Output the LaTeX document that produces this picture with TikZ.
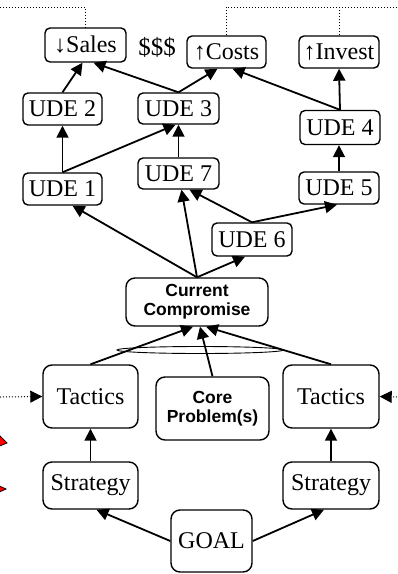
\documentclass[tikz,border=0pt]{standalone}
\usepackage{fontspec}
\setmainfont{Liberation Serif}
\newfontfamily\bsans{Liberation Sans}
\usetikzlibrary{arrows.meta,calc}

\tikzset{
  box/.style={draw, line width=1.4pt, rounded corners=5pt, inner sep=0pt,
    align=center, font=\fontsize{24}{25}\selectfont},
  bigbox/.style={box, rounded corners=9pt},
  boldbox/.style={bigbox, font=\bsans\bfseries\fontsize{17.5}{19}\selectfont},
  link/.style={line width=1.8pt, -{Triangle[length=12pt,width=12pt]}},
  feed/.style={line width=1pt, dotted},
  feedin/.style={feed, -{Triangle[length=12pt,width=12pt]}},
  redtip/.style={fill=red, draw=black, line width=0.8pt, line join=miter}
}

\begin{document}
\begin{tikzpicture}[x=1pt, y=-1pt]
\useasboundingbox (0,0) rectangle (397,574);

% effects row
\node[box, minimum width=81pt, minimum height=34pt] (sales)  at (85.5,45)  {↓Sales};
\node[font=\fontsize{25}{26}\selectfont, inner sep=0pt] (money) at (157,47) {\$\$\$};
\node[box, minimum width=79pt, minimum height=32pt] (costs)  at (226.5,52) {↑Costs};
\node[box, minimum width=80pt, minimum height=32pt] (invest) at (339,52)   {↑Invest};

% undesirable effects
\node[box, minimum width=79pt, minimum height=32pt] (ude2) at (62.5,109)   {UDE 2};
\node[box, minimum width=81pt, minimum height=31pt] (ude3) at (178.5,108.5) {UDE 3};
\node[box, minimum width=80pt, minimum height=34pt] (ude4) at (340,127.5)  {UDE 4};
\node[box, minimum width=79pt, minimum height=32pt] (ude1) at (62.5,189)   {UDE 1};
\node[box, minimum width=81pt, minimum height=31pt] (ude7) at (178.5,173.5) {UDE 7};
\node[box, minimum width=80pt, minimum height=32pt] (ude5) at (339,188)    {UDE 5};
\node[box, minimum width=80pt, minimum height=33pt] (ude6) at (252,239.5)  {UDE 6};

% compromise and its roots
\node[boldbox, minimum width=142pt, minimum height=48pt] (cc) at (197,302) {Current\\Compromise};
\node[bigbox, minimum width=95pt, minimum height=63pt] (tacL) at (90.5,396.5) {Tactics};
\node[boldbox, minimum width=113pt, minimum height=63pt] (core) at (212.5,408.5) {Core\\Problem(s)};
\node[bigbox, minimum width=96pt, minimum height=63pt] (tacR) at (331,396.5) {Tactics};
\node[bigbox, minimum width=95pt, minimum height=47pt] (stratL) at (90.5,485.5) {Strategy};
\node[bigbox, minimum width=96pt, minimum height=47pt] (stratR) at (331,485.5) {Strategy};
\node[bigbox, minimum width=81pt, minimum height=62pt] (goal) at (211.5,541) {GOAL};

% feedback loops
\coordinate (tl) at (0,7);
\coordinate (tr) at (397,7);
\coordinate (ml) at (0,397);
\coordinate (mr) at (397,397);
\draw[feed] (tl) -| (sales.north);
\draw[feed] (costs.north) |- (tr);
\draw[feed] (invest.north) -- (invest.north |- tr);
\draw[feedin] (ml) -- (tacL.west);
\draw[feedin] (mr) -- (tacR.east);

% effect links
\draw[link] (ude2.north) -- ([xshift=-3pt]sales.south);
\draw[link] (ude3.north) -- ([xshift=8pt]sales.south);
\draw[link] (ude3.north) -- ([xshift=-9pt]costs.south);
\draw[link] (ude4.north) -- ([xshift=6pt]costs.south);
\draw[link] (ude4.north) -- (invest.south);
\draw[link] (ude1.north) -- (ude2.south);
\draw[link] (ude1.north) -- ([xshift=-3pt]ude3.south);
\draw[link] (ude7.north) -- (ude3.south);
\draw[link] (ude5.north) -- ([xshift=-1pt]ude4.south);
\draw[link] (ude6.north) -- ([xshift=-2pt]ude5.south);
\draw[link] (ude6.north) -- ([xshift=11pt]ude7.south);
\draw[link] (cc.north) -- ([xshift=3pt]ude7.south);
\draw[link] (cc.north) -- ([xshift=10pt]ude1.south);
\draw[link] (cc.north) -- ([xshift=-7pt]ude6.south);

% causes of the compromise
\draw[link] (tacL.north) -- ([xshift=-4pt]cc.south);
\draw[link] (core.north) -- ([xshift=3pt]cc.south);
\draw[link] (tacR.north) -- ([xshift=9pt]cc.south);
\draw[line width=0.9pt] (200,350) ellipse [x radius=83pt, y radius=3.5pt];

% goal to strategies to tactics
\draw[link] (stratL.north) -- (tacL.south);
\draw[link] (stratR.north) -- (tacR.south);
\draw[link] (goal.west) -- ([xshift=6pt]stratL.south);
\draw[link] (goal.east) -- ([xshift=-7pt]stratR.south);

% arrow tips entering from the left edge
\draw[redtip] (-6,430) -- (7,443) -- (-3,447) -- cycle;
\draw[redtip] (-5,484) -- (6,489) -- (-5,494) -- cycle;
\end{tikzpicture}
\end{document}
